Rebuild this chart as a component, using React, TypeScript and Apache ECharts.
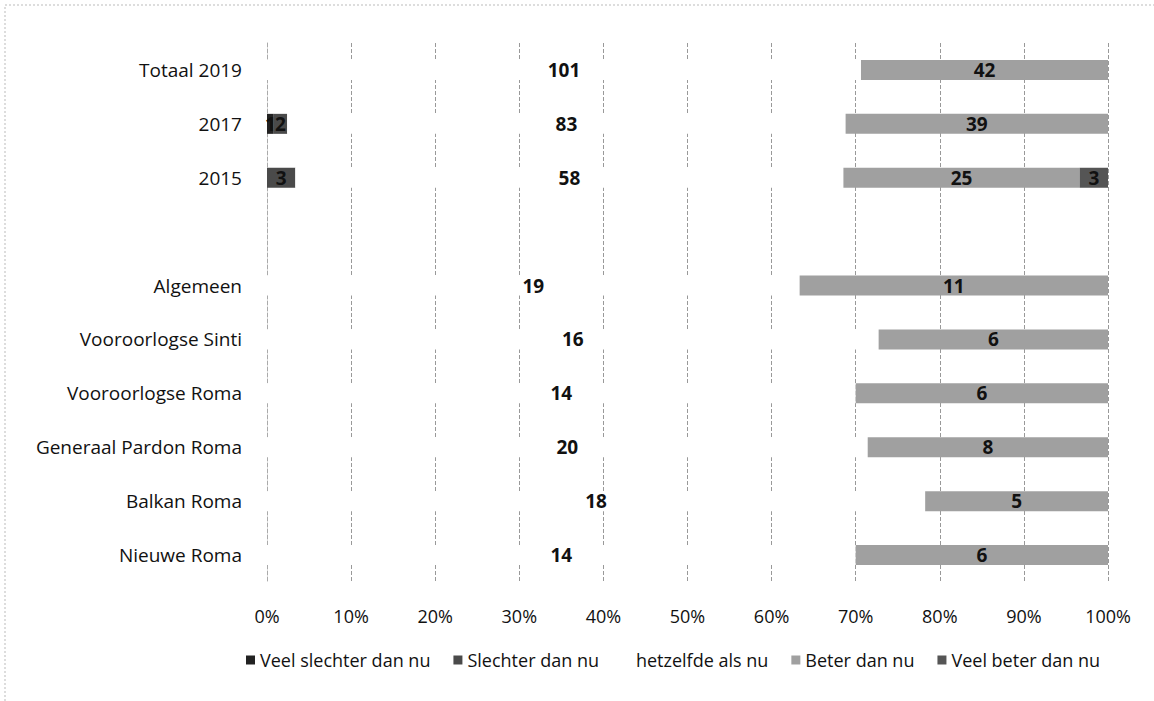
import React, { useEffect, useRef } from "react";
import * as echarts from "echarts";

const categories = [
  "Totaal 2019",
  "2017",
  "2015",
  "",
  "Algemeen",
  "Vooroorlogse Sinti",
  "Vooroorlogse Roma",
  "Generaal Pardon Roma",
  "Balkan Roma",
  "Nieuwe Roma",
];
const seriesNames = [
  "Veel slechter dan nu",
  "Slechter dan nu",
  "hetzelfde als nu",
  "Beter dan nu",
  "Veel beter dan nu",
];
const veelSlechter = [0, 1, 0, 0, 0, 0, 0, 0, 0, 0];
const slechter = [0, 2, 3, 0, 0, 0, 0, 0, 0, 0];
const hetzelfde = [101, 83, 58, 0, 19, 16, 14, 20, 18, 14];
const beter = [42, 39, 25, 0, 11, 6, 6, 8, 5, 6];
const veelBeter = [0, 0, 3, 0, 0, 0, 0, 0, 0, 0];
const xTicks = ["0%", "10%", "20%", "30%", "40%", "50%", "60%", "70%", "80%", "90%", "100%"];

const colors = ["#222222", "#4a4a4a", "#ffffff", "#a0a0a0", "#555555"];

export default function App() {
  const ref = useRef<HTMLDivElement>(null);
  useEffect(() => {
    if (!ref.current) return;
    const chart = echarts.init(ref.current, null, { renderer: "svg" });
    const all = [veelSlechter, slechter, hetzelfde, beter, veelBeter];
    const totals = categories.map((_, i) => all.reduce((s, a) => s + a[i], 0));
    const font = "'Open Sans', 'Noto Sans', sans-serif";
    const series = all.map((arr, k) => ({
      name: seriesNames[k],
      type: "bar",
      stack: "total",
      barWidth: 20,
      itemStyle: { color: colors[k] },
      label: {
        show: true,
        position: "inside",
        color: "#111",
        fontWeight: "bold",
        fontSize: 19,
        fontFamily: font,
        formatter: (p: any) => {
          const v = arr[p.dataIndex];
          return v > 0 ? String(v) : "";
        },
      },
      data: arr.map((v, i) => (totals[i] > 0 && v > 0 ? (v / totals[i]) * 100 : 0)),
    }));
    chart.setOption({
      animation: false,
      backgroundColor: "#ffffff",
      grid: { left: 267, right: 46, top: 43, bottom: 119, containLabel: false },
      legend: {
        top: 646,
        left: 241,
        itemWidth: 9,
        itemHeight: 9,
        itemGap: 23,
        itemTextGap: 4,
        icon: "rect",
        textStyle: { fontSize: 18, color: "#111", fontFamily: font },
        data: seriesNames.map((n, k) => ({
          name: n,
          itemStyle: k === 2 ? { color: "#ffffff" } : { color: colors[k] },
        })),
      },
      xAxis: {
        type: "value",
        min: 0,
        max: 100,
        interval: 10,
        axisLine: { show: false },
        axisTick: { show: false },
        splitLine: { show: true, lineStyle: { type: "dashed", color: "#999", width: 1 } },
        axisLabel: {
          margin: 25,
          fontSize: 18,
          color: "#111",
          fontFamily: font,
          formatter: (v: number) => xTicks[Math.round(v / 10)],
        },
      },
      yAxis: {
        type: "category",
        inverse: true,
        data: categories,
        axisLine: { show: true, lineStyle: { color: "#aaa", type: "dashed" } },
        axisTick: { show: false },
        axisLabel: { margin: 25, fontSize: 19, color: "#111", fontFamily: font },
      },
      graphic: [
        {
          type: "rect",
          shape: { x: 5, y: 5, width: 1150, height: 700 },
          style: { fill: "none", stroke: "#bbb", lineDash: [2, 2], lineWidth: 1 },
        },
      ],
      series,
    });
    return () => chart.dispose();
  }, []);
  return (
    <div
      ref={ref}
      style={{ position: "absolute", left: 0, top: 0, width: 1154, height: 701 }}
    />
  );
}
